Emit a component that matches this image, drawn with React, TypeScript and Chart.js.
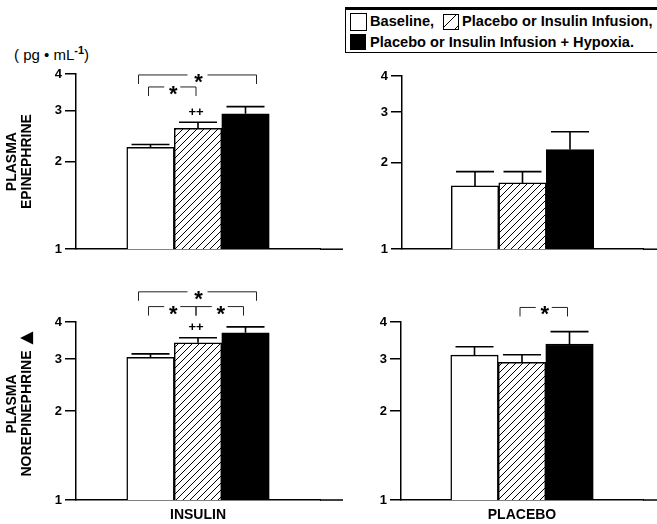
import React, { useEffect, useRef } from 'react';
import { Chart, registerables } from 'chart.js';

Chart.register(...registerables);

// ---------- data ----------
const seriesLabels = ['Baseline,', 'Placebo or Insulin Infusion,', 'Placebo or Insulin Infusion + Hypoxia.'];
const groupLabels = ['INSULIN', 'PLACEBO'];
const yTickValues = [1, 2, 3, 4];
const yTitleEpi = ['PLASMA', 'EPINEPHRINE'];
const yTitleNor = ['PLASMA', 'NOREPINEPHRINE ▲'];

const epiInsulin = [2.24, 2.6, 2.92];
const epiInsulinSem = [0.05, 0.13, 0.17];
const epiPlacebo = [1.66, 1.7, 2.22];
const epiPlaceboSem = [0.2, 0.16, 0.34];
const norInsulin = [3.04, 3.4, 3.68];
const norInsulinSem = [0.08, 0.14, 0.17];
const norPlacebo = [3.09, 2.92, 3.37];
const norPlaceboSem = [0.21, 0.18, 0.34];

// significance brackets: bar indices and level (data units)
const epiInsulinBrackets = [
  { from: 0, to: 2, level: 3.97 },
  { from: 0, to: 1, level: 3.61 },
];
const epiPlaceboBrackets: { from: number; to: number; level: number }[] = [];
const norInsulinBrackets = [
  { from: 0, to: 2, level: 5.06 },
  { from: 0, to: 1, level: 4.51 },
  { from: 1, to: 2, level: 4.51 },
];
const norPlaceboBrackets = [{ from: 1, to: 2, level: 4.48 }];

const epiInsulinMarks = [{ bar: 1, text: '++' }];
const norInsulinMarks = [{ bar: 1, text: '++' }];

const FONT = '"Liberation Sans", Arial, Helvetica, sans-serif';

function makeHatch(): CanvasPattern | string {
  const s = 7;
  const c = document.createElement('canvas');
  c.width = s;
  c.height = s;
  const g = c.getContext('2d');
  if (!g) return '#888';
  g.fillStyle = '#fff';
  g.fillRect(0, 0, s, s);
  g.strokeStyle = '#000';
  g.lineWidth = 1;
  g.beginPath();
  g.moveTo(0, s);
  g.lineTo(s, 0);
  g.moveTo(-1, 1);
  g.lineTo(1, -1);
  g.moveTo(s - 1, s + 1);
  g.lineTo(s + 1, s - 1);
  g.stroke();
  return g.createPattern(c, 'repeat') || '#888';
}

const overlayPlugin = {
  id: 'overlay',
  afterDraw(chart: any, _args: any, opts: any) {
    const ctx: CanvasRenderingContext2D = chart.ctx;
    const ys = chart.scales.y;
    const area = chart.chartArea;
    ctx.save();
    // extended baseline
    ctx.strokeStyle = '#000';
    ctx.lineWidth = 1.5;
    ctx.beginPath();
    ctx.moveTo(area.right, area.bottom);
    ctx.lineTo(chart.width, area.bottom);
    ctx.stroke();

    const centers: number[] = [];
    const tops: number[] = [];
    chart.data.datasets.forEach((ds: any, i: number) => {
      const meta = chart.getDatasetMeta(i);
      const bar = meta.data[0];
      const v = ds.data[0];
      const e = opts.sem[i];
      const yBar = ys.getPixelForValue(v);
      const yTop = ys.getPixelForValue(v + e);
      centers.push(bar.x);
      tops.push(yTop);
      ctx.strokeStyle = '#000';
      ctx.lineWidth = 1.6;
      ctx.beginPath();
      ctx.moveTo(bar.x, yBar);
      ctx.lineTo(bar.x, yTop);
      ctx.moveTo(bar.x - 19, yTop);
      ctx.lineTo(bar.x + 19, yTop);
      ctx.stroke();
    });

    // brackets
    ctx.lineWidth = 1;
    ctx.strokeStyle = '#222';
    ctx.fillStyle = '#000';
    (opts.brackets || []).forEach((b: any) => {
      const adjacent = b.to - b.from === 1;
      const x1 = centers[b.from] + (adjacent ? -2 : -12);
      const x2 = centers[b.to] + (adjacent ? -2 : 11);
      const y = ys.getPixelForValue(b.level);
      const mid = (x1 + x2) / 2;
      const gap = adjacent ? 8 : 10;
      ctx.beginPath();
      ctx.moveTo(x1, y + 9);
      ctx.lineTo(x1, y);
      ctx.lineTo(mid - gap, y);
      ctx.moveTo(mid + gap, y);
      ctx.lineTo(x2, y);
      ctx.lineTo(x2, y + 9);
      ctx.stroke();
      ctx.font = 'bold 22px ' + FONT;
      ctx.textAlign = 'center';
      ctx.textBaseline = 'alphabetic';
      ctx.fillText('*', mid + 1, y + 14);
    });

    (opts.marks || []).forEach((m: any) => {
      ctx.font = 'bold 13px ' + FONT;
      ctx.textAlign = 'center';
      ctx.textBaseline = 'middle';
      ctx.fillText(m.text, centers[m.bar] - 2, tops[m.bar] - 10);
    });

    // rotated y-axis title
    if (opts.title) {
      const cy = (area.top + area.bottom) / 2 + (opts.titleShift || 0);
      const xs = [12, 27];
      opts.title.forEach((line: string, k: number) => {
        let main = line;
        let sym = '';
        if (line.endsWith(' ▲')) {
          main = line.slice(0, -2);
          sym = '▲';
        }
        const mainFont = 'bold 14px ' + FONT;
        const symFont = '17px "DejaVu Sans", sans-serif';
        ctx.font = mainFont;
        const wMain = ctx.measureText(main).width;
        let wSym = 0;
        const space = sym ? 6 : 0;
        if (sym) {
          ctx.font = symFont;
          wSym = ctx.measureText(sym).width;
        }
        const total = wMain + space + wSym;
        ctx.save();
        ctx.translate(xs[k], cy);
        ctx.rotate(-Math.PI / 2);
        ctx.textAlign = 'left';
        ctx.textBaseline = 'middle';
        ctx.fillStyle = '#000';
        ctx.font = mainFont;
        ctx.fillText(main, -total / 2, 0);
        if (sym) {
          ctx.font = symFont;
          ctx.fillText(sym, -total / 2 + wMain + space, 0);
        }
        ctx.restore();
      });
    }
    ctx.restore();
  },
};

type PanelProps = {
  left: number;
  top: number;
  width: number;
  height: number;
  values: number[];
  sem: number[];
  brackets: { from: number; to: number; level: number }[];
  marks: { bar: number; text: string }[];
  yTitle: string[] | null;
  titleShift: number;
  xLabel: string;
  showX: boolean;
  yWidth: number;
  xHeight: number;
  pad: { left: number; right: number; top: number; bottom: number };
};

function Panel(p: PanelProps) {
  const ref = useRef<HTMLCanvasElement>(null);
  useEffect(() => {
    if (!ref.current) return;
    const hatch = makeHatch();
    const fills: any[] = ['#fff', hatch, '#000'];
    const chart = new Chart(ref.current, {
      type: 'bar',
      data: {
        labels: [p.xLabel],
        datasets: seriesLabels.map((label, i) => ({
          label,
          data: [p.values[i]],
          backgroundColor: fills[i],
          borderColor: '#000',
          borderWidth: 1.5,
          barThickness: 47.5,
        })),
      },
      options: {
        animation: false,
        responsive: false,
        layout: { padding: p.pad },
        plugins: {
          legend: { display: false },
          tooltip: { enabled: false },
          overlay: {
            sem: p.sem,
            brackets: p.brackets,
            marks: p.marks,
            title: p.yTitle,
            titleShift: p.titleShift,
          },
        } as any,
        scales: {
          x: {
            grid: { display: false, drawTicks: false },
            border: { display: true, color: '#000', width: 1.5 },
            ticks: {
              display: p.showX,
              color: '#000',
              padding: 7,
              font: { family: FONT, size: 14, weight: 'bold' },
            },
            afterFit: (s: any) => {
              s.height = p.xHeight;
            },
          },
          y: {
            type: 'logarithmic',
            min: 1,
            max: 4,
            grid: {
              display: true,
              drawOnChartArea: false,
              drawTicks: true,
              tickLength: 11,
              color: '#000',
              lineWidth: 1.5,
            },
            border: { display: true, color: '#000', width: 1.5 },
            afterBuildTicks: (s: any) => {
              s.ticks = yTickValues.map((v) => ({ value: v }));
            },
            ticks: {
              color: '#000',
              padding: 3,
              font: { family: FONT, size: 13, weight: 'bold' },
              callback: (v: any) => String(v),
            },
            afterFit: (s: any) => {
              s.width = p.yWidth;
            },
          },
        },
      } as any,
      plugins: [overlayPlugin],
    });
    return () => chart.destroy();
  }, []);
  return (
    <canvas
      ref={ref}
      width={p.width}
      height={p.height}
      style={{ position: 'absolute', left: p.left, top: p.top, width: p.width, height: p.height }}
    />
  );
}

const textStyle: React.CSSProperties = {
  position: 'absolute',
  fontFamily: FONT,
  fontWeight: 'bold',
  fontSize: 14.6,
  lineHeight: '18px',
  whiteSpace: 'nowrap',
  color: '#000',
};

export default function App() {
  return (
    <div
      style={{
        position: 'absolute',
        left: 0,
        top: 0,
        width: 657,
        height: 524,
        overflow: 'hidden',
        background: '#fff',
      }}
    >
      <div
        style={{
          position: 'absolute',
          left: 14,
          top: 40,
          fontFamily: FONT,
          fontSize: 15,
          lineHeight: '20px',
          whiteSpace: 'nowrap',
          color: '#000',
        }}
      >
        ( pg • mL<sup style={{ fontSize: 11, fontWeight: 'bold' }}>-1</sup>)
      </div>

      {/* legend */}
      <div
        style={{
          position: 'absolute',
          left: 345,
          top: 7,
          width: 330,
          height: 42,
          borderTop: '3px solid #000',
          borderLeft: '1px solid #000',
          borderBottom: '1px solid #000',
        }}
      />
      <div style={{ position: 'absolute', left: 350, top: 13, width: 15, height: 16, border: '1px solid #000', background: '#fff' }} />
      <div style={{ ...textStyle, left: 370, top: 12 }}>{seriesLabels[0]}</div>
      <div
        style={{
          position: 'absolute',
          left: 443,
          top: 14,
          width: 14,
          height: 14,
          border: '1px solid #000',
          background: 'repeating-linear-gradient(135deg, #fff 0px, #fff 8px, #000 8px, #000 9px)',
        }}
      />
      <div style={{ ...textStyle, left: 462, top: 12 }}>{seriesLabels[1]}</div>
      <div style={{ position: 'absolute', left: 350, top: 34, width: 16, height: 16, background: '#000' }} />
      <div style={{ ...textStyle, left: 370, top: 33 }}>{seriesLabels[2]}</div>

      <Panel
        left={0}
        top={60}
        width={343}
        height={200}
        values={epiInsulin}
        sem={epiInsulinSem}
        brackets={epiInsulinBrackets}
        marks={epiInsulinMarks}
        yTitle={yTitleEpi}
        titleShift={0}
        xLabel={groupLabels[0]}
        showX={false}
        yWidth={76}
        xHeight={0}
        pad={{ left: 0, right: 23, top: 14, bottom: 9 }}
      />
      <Panel
        left={343}
        top={60}
        width={314}
        height={200}
        values={epiPlacebo}
        sem={epiPlaceboSem}
        brackets={epiPlaceboBrackets}
        marks={[]}
        yTitle={null}
        titleShift={0}
        xLabel={groupLabels[1]}
        showX={false}
        yWidth={59}
        xHeight={0}
        pad={{ left: 0, right: 14, top: 16, bottom: 9 }}
      />
      <Panel
        left={0}
        top={270}
        width={343}
        height={254}
        values={norInsulin}
        sem={norInsulinSem}
        brackets={norInsulinBrackets}
        marks={norInsulinMarks}
        yTitle={yTitleNor}
        titleShift={-7}
        xLabel={groupLabels[0]}
        showX={true}
        yWidth={76}
        xHeight={24}
        pad={{ left: 0, right: 23, top: 52, bottom: 0 }}
      />
      <Panel
        left={343}
        top={270}
        width={314}
        height={254}
        values={norPlacebo}
        sem={norPlaceboSem}
        brackets={norPlaceboBrackets}
        marks={[]}
        yTitle={null}
        titleShift={0}
        xLabel={groupLabels[1]}
        showX={true}
        yWidth={58}
        xHeight={24}
        pad={{ left: 0, right: 14, top: 52, bottom: 0 }}
      />
    </div>
  );
}
